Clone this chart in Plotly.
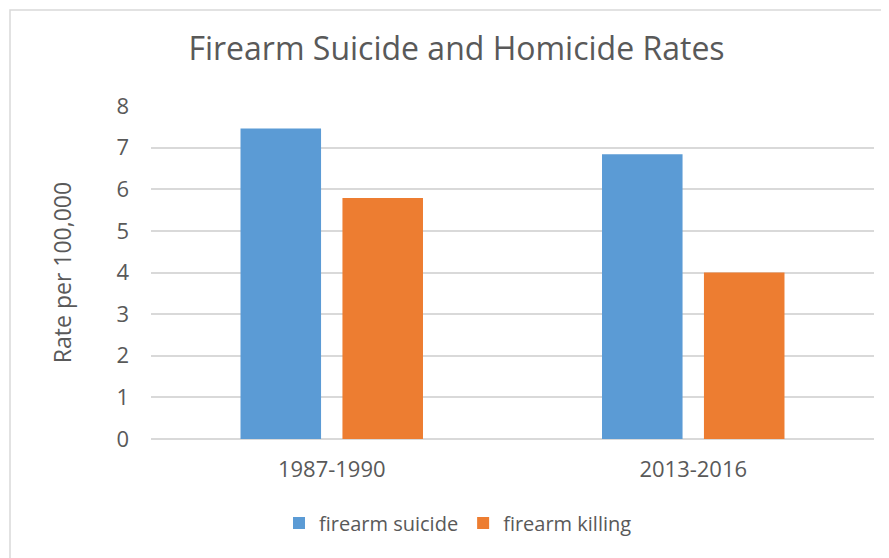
import plotly.graph_objects as go

categories = ["1987-1990", "2013-2016"]
suicide = [7.46, 6.84]
killing = [5.79, 4.0]
y_ticks = [0, 1, 2, 3, 4, 5, 6, 7, 8]

FONT = "Open Sans"
TXT = "#595959"
GRID = "#D9D9D9"

# page body has an 8px margin; canvas is shifted by 8px
W, H = 881, 550
L, R, T, B = 143, 15, 98, 119
PW = W - L - R
PH = H - T - B

fig = go.Figure()
fig.add_trace(go.Bar(name="firearm suicide", x=categories, y=suicide,
                     marker=dict(color="#5B9BD5", line=dict(width=0))))
fig.add_trace(go.Bar(name="firearm killing", x=categories, y=killing,
                     marker=dict(color="#ED7D31", line=dict(width=0))))

fig.update_layout(
    width=W, height=H,
    margin=dict(l=L, r=R, t=T, b=B),
    paper_bgcolor="white", plot_bgcolor="white",
    font=dict(family=FONT, color=TXT, size=22),
    barmode="group", bargap=0.436, bargroupgap=0.21,
    title=dict(text="Firearm Suicide and Homicide Rates",
               font=dict(family=FONT, size=32, color=TXT),
               x=(456.5 - 8) / W, xref="container", xanchor="center",
               y=1 - (49 - 8) / H, yref="container", yanchor="middle"),
    showlegend=True,
    legend=dict(orientation="h", x=(458 - 8 - L) / PW, xanchor="center",
                y=-(523 - 439) / PH, yanchor="middle",
                font=dict(family=FONT, size=20, color=TXT), bgcolor="rgba(0,0,0,0)",
                itemwidth=30, tracegroupgap=0),
    xaxis=dict(showgrid=False, showline=False, ticks="", tickfont=dict(size=22),
               ticklabelstandoff=15),
    yaxis=dict(range=[0, 8], tickvals=y_ticks, showgrid=True, gridcolor=GRID, gridwidth=1.5,
               zeroline=True, zerolinecolor=GRID, zerolinewidth=1.5, showline=False,
               ticks="", tickfont=dict(size=22), ticklabelstandoff=21,
               title=dict(text="Rate per 100,000", font=dict(size=23, color=TXT), standoff=38)),
    shapes=[dict(type="rect", xref="paper", yref="paper",
                 x0=(2 - L) / PW, x1=(900 - L) / PW,
                 y0=(H - B - 2) / PH, y1=-(B + 20) / PH,
                 line=dict(color=GRID, width=1.5), fillcolor="rgba(0,0,0,0)", layer="below")],
)

fig.write_html("out.html")
